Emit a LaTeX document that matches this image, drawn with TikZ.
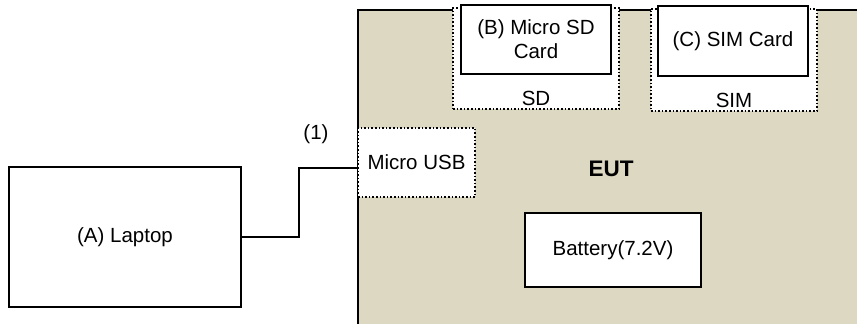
\documentclass[tikz,border=0pt]{standalone}
\usepackage{fontspec}
\setmainfont{Liberation Sans}
\definecolor{eutfill}{RGB}{221,216,194}
\begin{document}
\begin{tikzpicture}[x=1pt,y=-1pt,
  every node/.style={font=\fontsize{20.5}{24}\selectfont, inner sep=0pt},
  solidbox/.style={draw=black, line width=2pt, fill=white, align=center},
  dotbox/.style={draw=black, dotted, line width=1.6pt, fill=white},
  wire/.style={draw=black, line width=2pt}]
\useasboundingbox (0,0) rectangle (857,324);
\clip (0,0) rectangle (857,324);
% EUT
\node[draw=black, line width=2pt, fill=eutfill, anchor=north west,
      minimum width=530pt, minimum height=340pt] (eut) at (357,9) {};
\node[font=\fontsize{22.5}{26}\selectfont\bfseries] (eutlabel) at (611,169) {EUT};
% Laptop
\node[solidbox, minimum width=232pt, minimum height=140pt] (laptop) at (125,237) {(A) Laptop};
% Micro USB
\node[dotbox, minimum width=117pt, minimum height=69pt] (usb) at (416.5,162.5) {Micro USB};
% SD
\node[dotbox, minimum width=166pt, minimum height=101pt] (sd) at (536,58.5) {};
\node (sdlabel) at (536,98) {SD};
\node[solidbox, minimum width=150pt, minimum height=69pt] (sdcard) at (536,39.5) {(B) Micro SD\\Card};
% SIM
\node[dotbox, minimum width=166pt, minimum height=102pt] (sim) at (734,60) {};
\node (simlabel) at (734,100) {SIM};
\node[solidbox, minimum width=150pt, minimum height=70pt] (simcard) at (733,41) {(C) SIM Card};
% Battery
\node[solidbox, minimum width=176pt, minimum height=74pt] (battery) at (613,250) {Battery(7.2V)};
% Connector
\draw[wire] (laptop.east) -- ++(57,0) |- ([yshift=-5.5pt]usb.west);
\node (conlabel) at (316,134) {(1)};
\end{tikzpicture}
\end{document}
